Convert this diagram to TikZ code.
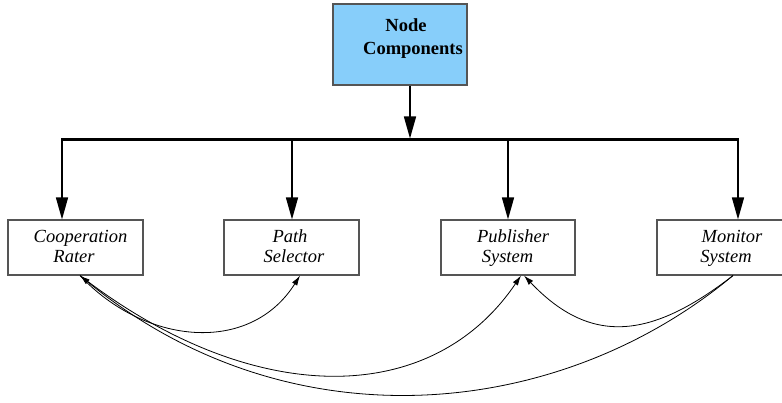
\documentclass[tikz,border=0pt]{standalone}
\usepackage{fontspec}
\setmainfont{Liberation Serif}
\usetikzlibrary{arrows.meta}
\definecolor{ncblue}{RGB}{135,206,250}
\definecolor{boxgray}{RGB}{85,85,85}
\begin{document}
\begin{tikzpicture}[x=1pt,y=-1pt,
  box/.style={draw=boxgray, line width=1.1pt, rectangle, inner sep=0pt, minimum height=55pt},
  lbl/.style={anchor=base, inner sep=0pt, font=\fontsize{18.5}{20}\selectfont\itshape},
  blbl/.style={anchor=base, inner sep=0pt, font=\fontsize{18.5}{20}\selectfont\bfseries},
  bigarr/.style={line width=1.5pt, -{Triangle[length=22pt,width=12pt]}},
  smallarr/.style={line width=0.8pt, -{Latex[length=10pt,width=6pt]}}
]
\useasboundingbox (0,0) rectangle (782,403);
\clip (0,0) rectangle (782,403);
% top node
\node[box, fill=ncblue, minimum width=134pt, minimum height=81pt] (nc) at (400,44.5) {};
\node[blbl] (nct1) at (406,32) {Node};
\node[blbl] (nct2) at (413,55) {Components};
% component boxes
\node[box, minimum width=135pt] (cr) at (75.5,247.5) {};
\node[box, minimum width=135pt] (ps) at (291.5,247.5) {};
\node[box, minimum width=134pt] (pub) at (508,247.5) {};
\node[box, minimum width=134pt] (mon) at (724,247.5) {};
\node[lbl] (crt1) at (80.5,243) {Cooperation};
\node[lbl] (crt2) at (74,263) {Rater};
\node[lbl] (pst1) at (290,243) {Path};
\node[lbl] (pst2) at (294,263) {Selector};
\node[lbl] (pubt1) at (513,243) {Publisher};
\node[lbl] (pubt2) at (507.5,263) {System};
\node[lbl] (mont1) at (732,243) {Monitor};
\node[lbl] (mont2) at (726,263) {System};
% bus
\coordinate (b1) at (62,139.5);
\coordinate (b2) at (292,139.5);
\coordinate (b3) at (508,139.5);
\coordinate (b4) at (738,139.5);
\draw[line width=3pt] ([xshift=-0.75pt]b1) -- ([xshift=0.75pt]b4);
\draw[bigarr] ([xshift=10pt]nc.south) -- ([xshift=10pt,yshift=1pt]nc.south |- b1);
\draw[bigarr] (b1) -- (b1 |- cr.north);
\draw[bigarr] (b2) -- (b2 |- ps.north);
\draw[bigarr] (b3) -- (b3 |- pub.north);
\draw[bigarr] (b4) -- (b4 |- mon.north);
% curved connectors
\draw[smallarr] ([xshift=4.5pt]cr.south) .. controls (145,345) and (250,355) .. ([xshift=8.5pt]ps.south);
\draw[smallarr] ([xshift=4.5pt]cr.south) .. controls (250,407) and (430,410) .. ([xshift=13pt]pub.south);
\draw[smallarr] ([xshift=9pt]mon.south) .. controls (560,420) and (290,448) .. ([xshift=4.5pt]cr.south);
\draw[smallarr] ([xshift=9pt]mon.south) .. controls (650,340) and (590,345) .. ([xshift=16pt]pub.south);
\end{tikzpicture}
\end{document}
